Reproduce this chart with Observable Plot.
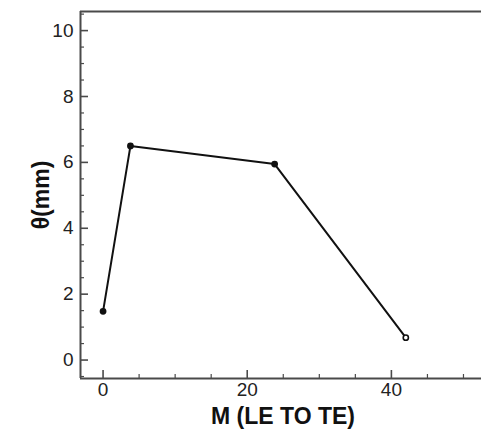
<!DOCTYPE html>
<html>
<head>
<meta charset="utf-8">
<script src="https://cdn.jsdelivr.net/npm/d3@7"></script>
<script src="https://cdn.jsdelivr.net/npm/@observablehq/plot@0.6"></script>
<style>
  html, body { margin: 0; padding: 0; background: #fff; }
  #chart svg { display: block; }
</style>
</head>
<body>
<div id="chart"></div>
<script>
// Momentum thickness along the chord, leading edge to trailing edge
const stations = [0, 3.8, 23.8, 42];
const thetaMM = [1.48, 6.5, 5.95, 0.68];

// Axis extents and tick values
const xDomain = [-3.13, 52.5];
const yDomain = [-0.56, 10.58];
const xMajorTicks = [0, 20, 40];
const xMinorTicks = [5, 10, 15, 25, 30, 35, 45, 50];
const yMajorTicks = [0, 2, 4, 6, 8, 10];
const yMinorTicks = [-0.5, 0.5, 1, 1.5, 2.5, 3, 3.5, 4.5, 5, 5.5, 6.5, 7, 7.5, 8.5, 9, 9.5, 10.5];

const points = stations.map((m, i) => ({m, theta: thetaMM[i], last: i === stations.length - 1}));

const axisColor = "#4a4a4a";
const font = "Liberation Sans, Arial, Helvetica, sans-serif";

const chart = Plot.plot({
  width: 481,
  height: 430,
  marginLeft: 80,
  marginRight: 0,
  marginTop: 11,
  marginBottom: 52,
  style: {fontFamily: font, background: "#fff"},
  x: {domain: xDomain, label: null},
  y: {domain: yDomain, label: null},
  marks: [
    // frame: left, bottom and top edges
    Plot.ruleX([xDomain[0]], {stroke: axisColor, strokeWidth: 2}),
    Plot.ruleY([yDomain[0]], {stroke: axisColor, strokeWidth: 2}),
    Plot.ruleY([yDomain[1]], {stroke: axisColor, strokeWidth: 2}),
    // inward-pointing ticks
    Plot.axisX({anchor: "bottom", ticks: xMajorTicks, tickSize: -8, text: null, label: null, stroke: axisColor, strokeWidth: 1.6}),
    Plot.axisX({anchor: "bottom", ticks: xMinorTicks, tickSize: -4, text: null, label: null, stroke: axisColor, strokeWidth: 1.2}),
    Plot.axisY({anchor: "left", ticks: yMajorTicks, tickSize: -8, text: null, label: null, stroke: axisColor, strokeWidth: 1.6}),
    Plot.axisY({anchor: "left", ticks: yMinorTicks, tickSize: -4, text: null, label: null, stroke: axisColor, strokeWidth: 1.2}),
    // tick labels
    Plot.axisX({anchor: "bottom", ticks: xMajorTicks, tickSize: 0, tickPadding: 4, fontSize: 19, fill: "#222", label: null}),
    Plot.axisY({anchor: "left", ticks: yMajorTicks, tickSize: 0, tickPadding: 7, fontSize: 19, fill: "#222", label: null}),
    // axis titles
    Plot.text(["M (LE TO TE)"], {
      frameAnchor: "bottom", lineAnchor: "middle", textAnchor: "middle",
      dy: 38, dx: 2, text: d => d,
      fontSize: 23, fontWeight: "bold", fill: "#111"
    }),
    Plot.text(["θ(mm)"], {
      frameAnchor: "left", textAnchor: "middle", lineAnchor: "middle",
      dx: -39, dy: 0, rotate: -90, text: d => d,
      fontSize: 23, fontWeight: "bold", fill: "#111"
    }),
    // data
    Plot.line(points, {x: "m", y: "theta", stroke: "#111", strokeWidth: 2}),
    Plot.dot(points, {
      x: "m", y: "theta", r: 2.6, stroke: "#111", strokeWidth: 1.6,
      fill: d => d.last ? "#fff" : "#111"
    })
  ]
});

document.getElementById("chart").append(chart);
</script>
</body>
</html>
